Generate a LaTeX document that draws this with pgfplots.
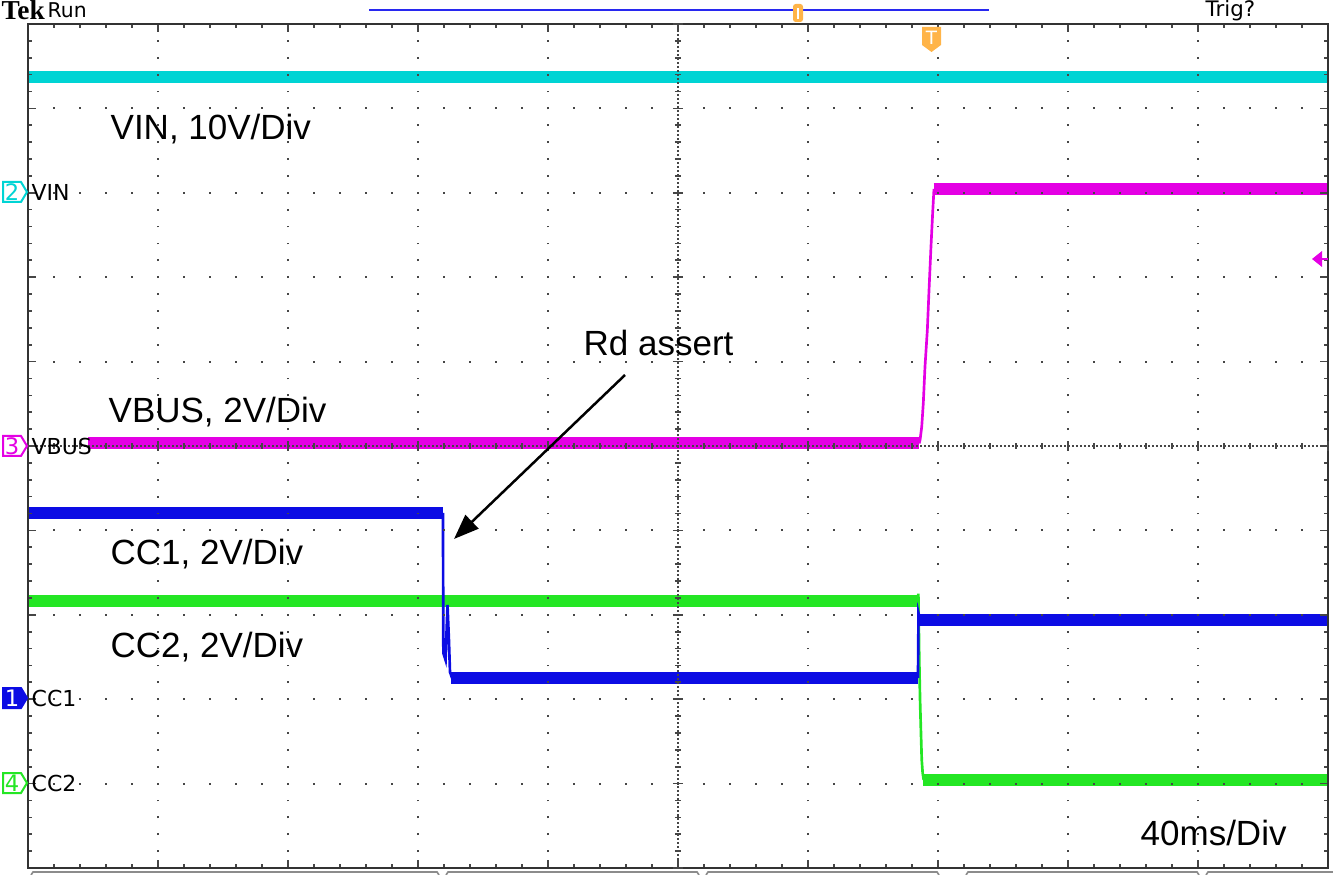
\documentclass[border=0pt]{standalone}
\usepackage{pgfplots}
\pgfplotsset{compat=1.18}
\usepackage{fontspec}
\setmainfont{Liberation Sans}
\newfontfamily\tekfont{DejaVu Sans}
\newfontfamily\tekserif{Liberation Serif}
\usetikzlibrary{arrows.meta}
\definecolor{chA}{RGB}{0,212,212}
\definecolor{chM}{RGB}{228,0,228}
\definecolor{chB}{RGB}{12,12,228}
\definecolor{chG}{RGB}{36,230,36}
\definecolor{tekor}{RGB}{255,180,72}
\definecolor{gridc}{RGB}{70,70,70}
\newcommand{\chtag}[5]{%
  \draw[#2, line width=0.6pt, fill=#4] (3,#1-10) -- (21,#1-10) -- (27,#1) -- (21,#1+10) -- (3,#1+10) -- cycle;
  \node[#5, inner sep=0pt, font=\tekfont\fontsize{6.8}{7}\selectfont] at (12,#1) {#3};}
\begin{document}
\begin{tikzpicture}
\useasboundingbox (-8.4pt,-2.1pt) rectangle (391.5pt,260.4pt);
\begin{axis}[
  at={(0,0)}, anchor=south west,
  scale only axis, width=390pt, height=253.2pt,
  xmin=-5, xmax=5, ymin=-5, ymax=5,
  xtick={-5,...,5}, ytick={-5,...,5},
  minor x tick num=4, minor y tick num=4,
  xticklabels={}, yticklabels={},
  tick align=inside,
  major tick length=2.4pt, minor tick length=1.2pt,
  tick style={gridc, line width=0.5pt},
  grid=major,
  x grid style={gridc, line width=0.55pt, dash pattern=on 0.55pt off 4.514pt, dash phase=0.275pt},
  y grid style={gridc, line width=0.55pt, dash pattern=on 0.55pt off 7.25pt, dash phase=0.275pt},
  axis line style={black!80, line width=0.6pt},
  axis on top,
]
% VIN (cyan)
\addplot[chA, line width=3.5pt] coordinates {(-5,4.372) (5,4.372)};
% VBUS (magenta)
\addplot[chM, line width=3.6pt] coordinates {(-4.538,0.03) (1.856,0.03)};
\addplot[chM, line width=0.8pt] coordinates {(1.855,0.03) (1.862,0.071) (1.875,0.229) (1.887,0.509) (1.9,0.94) (1.918,1.374) (1.931,1.848) (1.946,2.361) (1.959,2.761) (1.969,3.045)};
\addplot[chM, line width=3.6pt] coordinates {(1.966,3.045) (5,3.045)};
% CC2 (green)
\addplot[chG, line width=3.6pt] coordinates {(-5,-1.836) (1.85,-1.836)};
\addplot[chG, line width=0.8pt] coordinates {(1.846,-1.836) (1.849,-1.75) (1.853,-2.2) (1.856,-2.536) (1.862,-3.009) (1.869,-3.4) (1.875,-3.72) (1.882,-3.874) (1.89,-3.957)};
\addplot[chG, line width=3.6pt] coordinates {(1.882,-3.957) (5,-3.957)};
% CC1 (blue)
\addplot[chB, line width=3.6pt] coordinates {(-5,-0.794) (-1.805,-0.794)};
\addplot[chB, line width=0.8pt] coordinates {(-1.808,-0.794) (-1.805,-2.453) (-1.788,-2.536) (-1.773,-1.884) (-1.762,-2.299) (-1.754,-2.678) (-1.738,-2.749)};
\addplot[chB, line width=3.6pt] coordinates {(-1.75,-2.749) (1.849,-2.749)};
\addplot[chB, line width=0.8pt] coordinates {(1.846,-2.749) (1.85,-1.98) (1.862,-2.062)};
\addplot[chB, line width=3.6pt] coordinates {(1.85,-2.062) (5,-2.062)};
\end{axis}
\begin{axis}[
  at={(0,0)}, anchor=south west,
  scale only axis, width=390pt, height=253.2pt,
  xmin=-5, xmax=5, ymin=-5, ymax=5,
  axis lines=middle,
  axis line style={-, gridc, line width=0.5pt, dash pattern=on 0.5pt off 0.7pt},
  xtick={-5,...,5}, ytick={-5,...,5},
  minor x tick num=4, minor y tick num=4,
  xticklabels={}, yticklabels={},
  tick align=center,
  major tick length=3pt, minor tick length=1.8pt,
  tick style={gridc, line width=0.5pt},
]
\end{axis}
\begin{scope}[shift={(-8.4pt,260.4pt)}, x=0.3pt, y=-0.3pt]
  % annotations
  \begin{scope}[every node/.style={anchor=base west, inner sep=0pt, font=\fontsize{10.5}{12}\selectfont}]
    \node at (110,140) {VIN, 10V/Div};
    \node at (108,423) {VBUS, 2V/Div};
    \node at (110,565) {CC1, 2V/Div};
    \node at (110,657) {CC2, 2V/Div};
    \node at (583,356) {Rd assert};
    \node at (1140,845) {40ms/Div};
  \end{scope}
  \draw[-{Triangle[length=7.5pt,width=5.6pt]}, line width=0.75pt] (625,375) -- (454,539);
  % channel tags
  \chtag{192}{chA}{2}{white}{chA}
  \chtag{446}{chM}{3}{white}{chM}
  \chtag{698}{chB}{1}{chB}{white}
  \chtag{783}{chG}{4}{white}{chG}
  \begin{scope}[every node/.style={anchor=west, inner sep=0pt, font=\tekfont\fontsize{6.6}{7}\selectfont}]
    \node at (31,192) {VIN};
    \node at (31,446) {VBUS};
    \node at (31,698) {CC1};
    \node at (31,783) {CC2};
  \end{scope}
  % top bar
  \node[anchor=base west, inner sep=0pt, font=\tekserif\bfseries\fontsize{8.2}{9}\selectfont] at (1,20) {Tek};
  \node[anchor=base west, inner sep=0pt, font=\tekfont\fontsize{6.1}{7}\selectfont] at (47,18) {Run};
  \node[anchor=base west, inner sep=0pt, font=\tekfont\fontsize{6.4}{7}\selectfont] at (1205,17) {Trig?};
  \draw[color={rgb,255:red,40;green,40;blue,240}, line width=0.6pt] (369,10) -- (989,10);
  \fill[tekor, rounded corners=0.8pt] (793,4) rectangle (803,22);
  \draw[white, line width=0.4pt] (798,8) -- (798,19);
  \fill[tekor] (922,27) -- (941,27) -- (941,45) -- (931.5,52) -- (922,45) -- cycle;
  \node[white, inner sep=0pt, font=\tekfont\fontsize{5.5}{6}\selectfont] at (931.5,38) {T};
  % trigger level arrow
  \fill[chM] (1312,259) -- (1322,251) -- (1322,267) -- cycle;
  \draw[chM, line width=0.7pt] (1320,259) -- (1328,259);
  % bottom tabs
  \begin{scope}[black!45, line width=0.5pt]
    \draw (31,875) -- (33,872) -- (437,872) -- (439,875);
    \draw (446,875) -- (448,872) -- (697,872) -- (699,875);
    \draw (706,875) -- (708,872) -- (937,872) -- (939,875);
    \draw (966,875) -- (968,872) -- (1197,872) -- (1199,875);
    \draw (1206,875) -- (1208,872) -- (1333,872);
  \end{scope}
\end{scope}
\end{tikzpicture}
\end{document}
